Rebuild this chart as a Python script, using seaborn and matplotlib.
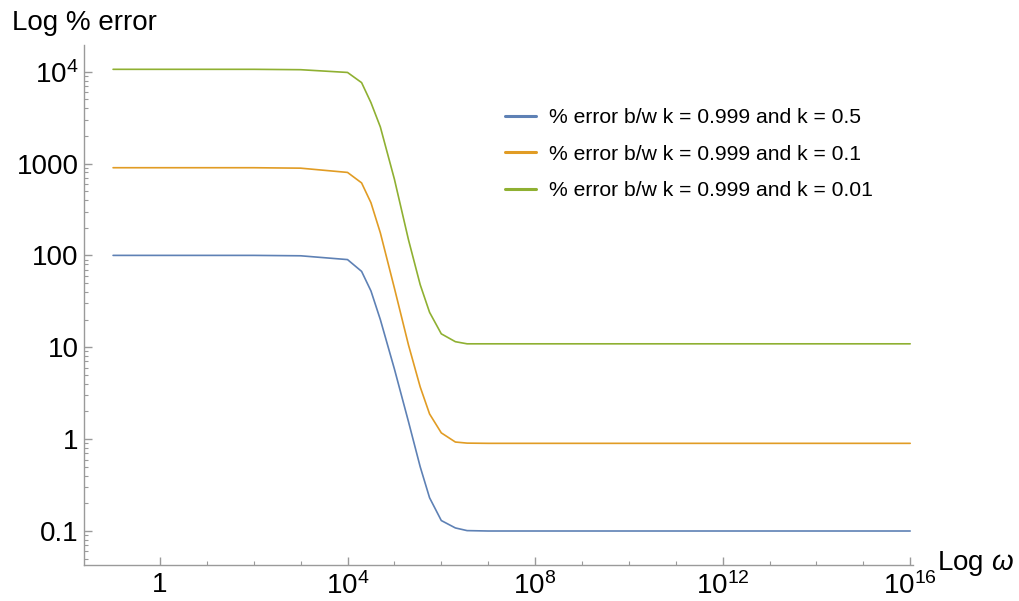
import numpy as np
import pandas as pd
import matplotlib
matplotlib.use("Agg")
import matplotlib.pyplot as plt
import seaborn as sns
from matplotlib.ticker import FixedLocator, NullFormatter

# ---- data ----
omega = [1e-1, 1e0, 1e1, 1e2, 1e3, 1e4, 10**4.3, 10**4.5, 10**4.7, 1e5,
         10**5.3, 10**5.55, 10**5.75, 1e6, 10**6.3, 10**6.55, 1e7, 1e8,
         1e10, 1e12, 1e14, 1e16]
err_k05 = [100, 100, 100, 100, 99, 90, 67, 41, 20, 5.8,
           1.55, 0.5, 0.23, 0.13, 0.108, 0.101, 0.1, 0.1,
           0.1, 0.1, 0.1, 0.1]
err_k01 = [900, 900, 900, 900, 890, 800, 615, 374, 176, 44,
           10.6, 3.7, 1.88, 1.17, 0.93, 0.905, 0.9, 0.9,
           0.9, 0.9, 0.9, 0.9]
err_k001 = [10600, 10600, 10600, 10600, 10500, 9800, 7600, 4600, 2500, 675,
            148, 48, 24, 14, 11.5, 10.9, 10.9, 10.9,
            10.9, 10.9, 10.9, 10.9]
series_names = ["% error b/w k = 0.999 and k = 0.5",
                "% error b/w k = 0.999 and k = 0.1",
                "% error b/w k = 0.999 and k = 0.01"]
colors = ["#5E81B5", "#E19C24", "#8FB032"]

x_tick_vals = [1e0, 1e4, 1e8, 1e12, 1e16]
x_tick_labels = ["1", r"$10^{4}$", r"$10^{8}$", r"$10^{12}$", r"$10^{16}$"]
y_tick_vals = [0.1, 1, 10, 100, 1000, 1e4]
y_tick_labels = ["0.1", "1", "10", "100", "1000", r"$10^{4}$"]

df = pd.concat([
    pd.DataFrame({"omega": omega, "err": vals, "series": name})
    for vals, name in zip([err_k05, err_k01, err_k001], series_names)
], ignore_index=True)

sns.set_style("ticks")
plt.rcParams["font.family"] = ["Liberation Sans", "DejaVu Sans"]
plt.rcParams["mathtext.fontset"] = "custom"
plt.rcParams["mathtext.rm"] = "Liberation Sans"
plt.rcParams["mathtext.it"] = "Liberation Sans:italic"
plt.rcParams["mathtext.bf"] = "Liberation Sans:bold"
plt.rcParams["text.color"] = "black"

fig = plt.figure(figsize=(10.2, 6.01), dpi=100)
ax = fig.add_axes([84/1020, 1-565/601, (913-84)/1020, (565-45)/601])

sns.lineplot(data=df, x="omega", y="err", hue="series", palette=colors,
             hue_order=series_names, linewidth=1.2, ax=ax, legend=True,
             estimator=None)

ax.set_xscale("log")
ax.set_yscale("log")
ax.set_xlim(10**-1.62, 10**16.06)
ax.set_ylim(10**-1.37, 10**4.29)

ax.xaxis.set_major_locator(FixedLocator(x_tick_vals))
ax.set_xticklabels(x_tick_labels)
ax.xaxis.set_minor_locator(FixedLocator([10.0**e for e in range(0, 17) if e % 4 != 0]))
ax.xaxis.set_minor_formatter(NullFormatter())
ax.yaxis.set_major_locator(FixedLocator(y_tick_vals))
ax.set_yticklabels(y_tick_labels)
ax.yaxis.set_minor_locator(FixedLocator([m * 10.0**e for e in range(-2, 5) for m in range(2, 10)]))
ax.yaxis.set_minor_formatter(NullFormatter())

spine_col = "#9a9a9a"
for s in ["top", "right"]:
    ax.spines[s].set_visible(False)
for s in ["left", "bottom"]:
    ax.spines[s].set_color(spine_col)
    ax.spines[s].set_linewidth(1.0)

ax.tick_params(axis="both", which="both", bottom=True, left=True, top=False, right=False)
ax.tick_params(axis="both", which="major", direction="in", length=6, width=1.0,
               color=spine_col, labelsize=20, labelcolor="black", pad=4)
ax.tick_params(axis="both", which="minor", direction="in", length=3, width=0.8,
               color=spine_col)
ax.tick_params(axis="x", which="major", pad=5)

ax.set_xlabel("")
ax.set_ylabel("")
ax.grid(False)

fig.text(12/1020, 1-23/601, "Log % error", fontsize=20, ha="left", va="center", color="black")
fig.text(937/1020, 1-563/601, r"Log $\omega$", fontsize=20, ha="left", va="center", color="black")

leg = ax.legend(loc="upper left", bbox_to_anchor=((497-84)/829, (565-100)/520),
                frameon=False, fontsize=15.2, handlelength=1.45,
                handletextpad=0.6, labelspacing=0.82, borderaxespad=0)
for line in leg.get_lines():
    line.set_linewidth(2.2)
for t in leg.get_texts():
    t.set_color("black")

fig.savefig("out.png", dpi=100, facecolor="white")
